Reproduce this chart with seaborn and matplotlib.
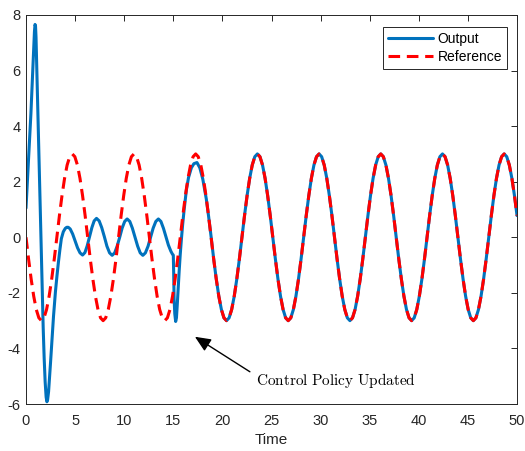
import numpy as np
import pandas as pd
import matplotlib
matplotlib.use("Agg")
import matplotlib.pyplot as plt
import seaborn as sns

# ---------------- data ----------------
# Reference signal sampled every pi/12 time units
ref_step = np.pi / 12
reference = [
    0, -0.78, -1.5, -2.12, -2.6, -2.9, -3, -2.9, -2.6, -2.12, -1.5, -0.78,
    0, 0.78, 1.5, 2.12, 2.6, 2.9, 3, 2.9, 2.6, 2.12, 1.5, 0.78,
    0, -0.78, -1.5, -2.12, -2.6, -2.9, -3, -2.9, -2.6, -2.12, -1.5, -0.78,
    0, 0.78, 1.5, 2.12, 2.6, 2.9, 3, 2.9, 2.6, 2.12, 1.5, 0.78,
    0, -0.78, -1.5, -2.12, -2.6, -2.9, -3, -2.9, -2.6, -2.12, -1.5, -0.78,
    0, 0.78, 1.5, 2.12, 2.6, 2.9, 3, 2.9, 2.6, 2.12, 1.5, 0.78,
    0, -0.78, -1.5, -2.12, -2.6, -2.9, -3, -2.9, -2.6, -2.12, -1.5, -0.78,
    0, 0.78, 1.5, 2.12, 2.6, 2.9, 3, 2.9, 2.6, 2.12, 1.5, 0.78,
    0, -0.78, -1.5, -2.12, -2.6, -2.9, -3, -2.9, -2.6, -2.12, -1.5, -0.78,
    0, 0.78, 1.5, 2.12, 2.6, 2.9, 3, 2.9, 2.6, 2.12, 1.5, 0.78,
    0, -0.78, -1.5, -2.12, -2.6, -2.9, -3, -2.9, -2.6, -2.12, -1.5, -0.78,
    0, 0.78, 1.5, 2.12, 2.6, 2.9, 3, 2.9, 2.6, 2.12, 1.5, 0.78,
    0, -0.78, -1.5, -2.12, -2.6, -2.9, -3, -2.9, -2.6, -2.12, -1.5, -0.78,
    0, 0.78, 1.5, 2.12, 2.6, 2.9, 3, 2.9, 2.6, 2.12, 1.5, 0.78,
    0, -0.78, -1.5, -2.12, -2.6, -2.9, -3, -2.9, -2.6, -2.12, -1.5, -0.78,
    0, 0.78, 1.5, 2.12, 2.6, 2.9, 3, 2.9, 2.6, 2.12, 1.5, 0.78,
]
ref_time = np.arange(len(reference)) * ref_step

# Output transient (before it locks onto the reference)
transient_time = [
    0.0, 0.1, 0.2, 0.3, 0.4, 0.5, 0.6, 0.7, 0.8, 0.86, 0.92, 0.97, 1.02, 1.08,
    1.15, 1.25, 1.35, 1.45, 1.55, 1.65, 1.75, 1.85, 1.95, 2.05, 2.13, 2.2,
    2.3, 2.4, 2.5, 2.6, 2.7, 2.8, 2.9, 3.0, 3.15, 3.3, 3.45, 3.6, 3.8, 4.0,
    4.15, 4.3, 4.5, 4.75, 5.0, 5.25, 5.5, 5.76, 6.0, 6.23, 6.47, 6.71, 6.94,
    7.18, 7.45, 7.71, 7.98, 8.24, 8.51, 8.77, 9.03, 9.28, 9.54, 9.79, 10.05,
    10.3, 10.57, 10.83, 11.1, 11.37, 11.63, 11.9, 12.16, 12.43, 12.69, 12.95,
    13.22, 13.48, 13.74, 14.0, 14.25, 14.5, 14.75, 14.9, 15.0, 15.04, 15.08,
    15.15, 15.24, 15.32, 15.4, 15.5, 15.6, 15.7, 15.82, 15.95, 16.1, 16.33,
    16.55, 16.84, 17.1, 17.41, 17.7, 18.0, 18.36, 18.6, 18.85, 19.1, 19.35,
]
transient_values = [
    1.05, 1.75, 2.45, 3.1, 3.75, 4.45, 5.25, 6.1, 6.95, 7.4, 7.66, 7.6, 7.2, 6.35,
    5.35, 4.0, 2.65, 1.2, -0.3, -1.85, -3.25, -4.35, -5.2, -5.75, -5.92, -5.85,
    -5.55, -5.05, -4.5, -3.95, -3.4, -2.85, -2.4, -1.95, -1.4, -0.9, -0.45, -0.05, 0.2, 0.32,
    0.36, 0.36, 0.3, 0.12, -0.13, -0.38, -0.56, -0.64, -0.55, -0.31, 0.02, 0.35, 0.59,
    0.68, 0.59, 0.35, 0.02, -0.32, -0.56, -0.65, -0.56, -0.32, 0.0, 0.33, 0.57,
    0.66, 0.57, 0.33, 0.0, -0.32, -0.56, -0.65, -0.56, -0.32, 0.0, 0.33,
    0.57, 0.66, 0.57, 0.32, 0.02, -0.28, -0.5, -0.6, -0.64, -1.3, -2.2,
    -2.75, -3.03, -2.9, -2.45, -1.8, -1.2, -0.65, -0.09, 0.45, 0.98, 1.7,
    2.15, 2.5, 2.65, 2.69, 2.5, 2.1, 1.38, 0.74, 0.02, -0.74, -1.44,
]
lock_index = 75  # from here on the output coincides with the reference
output_time = list(transient_time) + list(ref_time[lock_index:])
output_values = list(transient_values) + list(reference[lock_index:])

x_ticks = [0, 5, 10, 15, 20, 25, 30, 35, 40, 45, 50]
y_ticks = [-6, -4, -2, 0, 2, 4, 6, 8]

# ---------------- style ----------------
sns.set_theme(style="white")
plt.rcParams["font.family"] = ["Liberation Sans", "DejaVu Sans"]
plt.rcParams["mathtext.fontset"] = "cm"
plt.rcParams["axes.unicode_minus"] = False

W, H = 525, 451
fig = plt.figure(figsize=(W / 100, H / 100), dpi=100)
ax = fig.add_axes([26 / W, 47 / H, 491 / W, 389 / H])

df_out = pd.DataFrame({"Time": output_time, "Value": output_values})
df_ref = pd.DataFrame({"Time": ref_time, "Value": reference})

sns.lineplot(data=df_out, x="Time", y="Value", ax=ax, color="#0072BD",
             linewidth=2.2, label="Output", sort=False, estimator=None)
sns.lineplot(data=df_ref, x="Time", y="Value", ax=ax, color="#FF0000",
             linewidth=2.2, label="Reference", sort=False, estimator=None,
             linestyle=(0, (3.8, 2.2)))

ax.set_xlim(0, 50)
ax.set_ylim(-6, 8)
ax.set_xticks(x_ticks)
ax.set_yticks(y_ticks)
ax.set_xticklabels([str(v) for v in x_ticks])
ax.set_yticklabels([str(v) for v in y_ticks])
ax.set_xlabel("Time", fontsize=11, color="#262626", labelpad=4)
ax.set_ylabel("")

dark = "#262626"
for s in ax.spines.values():
    s.set_visible(True)
    s.set_color(dark)
    s.set_linewidth(0.7)
ax.tick_params(direction="in", length=4, width=0.7, top=True, right=True,
               colors=dark, labelsize=10.5)
ax.tick_params(axis="x", pad=7)
ax.tick_params(axis="y", pad=4)

leg = ax.legend(loc="upper right", bbox_to_anchor=(1 - 10 / 491, 1 - 12 / 389),
                borderaxespad=0, fontsize=10, frameon=True, fancybox=False,
                framealpha=1, edgecolor=dark, handlelength=3.3,
                handletextpad=0.3, borderpad=0.35, labelspacing=0.3)
leg.get_frame().set_linewidth(0.7)
for t in leg.get_texts():
    t.set_color("black")

ax.annotate("", xy=(17.2, -3.58), xytext=(22.8, -4.84),
            arrowprops=dict(arrowstyle="-|>,head_length=0.8,head_width=0.35",
                            color="black", lw=1.0, shrinkA=0, shrinkB=0))
ax.text(23.4, -5.31, r"$\mathrm{Control\ Policy\ Updated}$", fontsize=11,
        color="black", ha="left", va="baseline")

fig.savefig("out.png", dpi=100)
